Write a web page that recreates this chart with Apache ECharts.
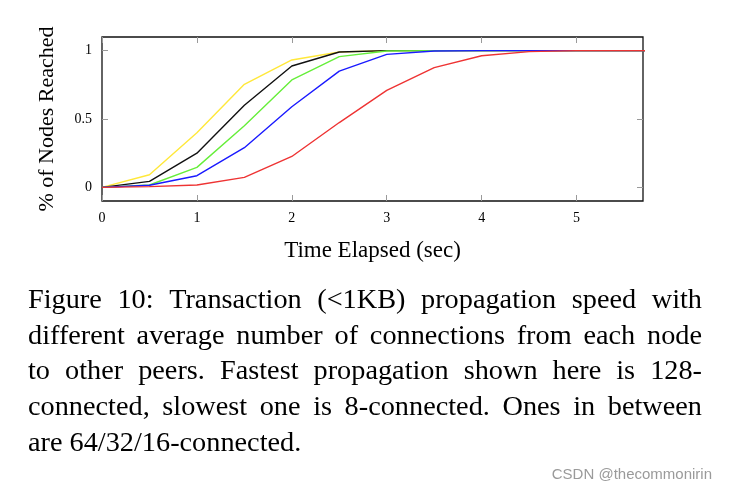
<!DOCTYPE html>
<html><head><meta charset="utf-8">
<script src="https://cdn.jsdelivr.net/npm/echarts@6/dist/echarts.min.js"></script>
<style>html,body{margin:0;padding:0;background:#fff}#c{width:729px;height:496px}</style>
</head><body><div id="c"></div>
<script>
// ---- data ----
const xValues = [0, 0.5, 1, 1.5, 2, 2.5, 3, 3.5, 4, 4.5, 5, 5.5, 6];
const conn128 = [0, 0.092, 0.40, 0.754, 0.932, 0.99, 1, 1, 1, 1, 1, 1, 1];
const conn64  = [0, 0.044, 0.25, 0.60, 0.888, 0.99, 1, 1, 1, 1, 1, 1, 1];
const conn32  = [0, 0.017, 0.146, 0.45, 0.786, 0.956, 0.998, 1, 1, 1, 1, 1, 1];
const conn16  = [0, 0.015, 0.085, 0.29, 0.59, 0.85, 0.973, 0.998, 1, 1, 1, 1, 1];
const conn8   = [0, 0.005, 0.017, 0.073, 0.226, 0.474, 0.71, 0.876, 0.963, 0.993, 1, 1, 1];
const xTicks = [0, 1, 2, 3, 4, 5];
const yTicks = [0, 0.5, 1];
const xLabel = 'Time Elapsed (sec)';
const yLabel = '% of Nodes Reached';
const captionLines = [
  'Figure 10: Transaction (<1KB) propagation speed with',
  'different average number of connections from each node',
  'to other peers. Fastest propagation shown here is 128-',
  'connected, slowest one is 8-connected. Ones in between',
  'are 64/32/16-connected.'
];
const watermark = 'CSDN @thecommonirin';

const seriesDefs = [
  {name: '128-connected', data: conn128, color: '#ffe83a'},
  {name: '64-connected',  data: conn64,  color: '#111111'},
  {name: '32-connected',  data: conn32,  color: '#66ee3a'},
  {name: '16-connected',  data: conn16,  color: '#1a1aff'},
  {name: '8-connected',   data: conn8,   color: '#ee3333'}
];

const serif = '"Liberation Serif", "DejaVu Serif", serif';
const chart = echarts.init(document.getElementById('c'), null, {renderer: 'canvas'});

// caption, justified
const capFont = 28;
const baseSx = 1.01;
const ctx = document.createElement('canvas').getContext('2d');
ctx.font = capFont + 'px "Liberation Serif"';
const capLeft = 28, capRight = 702, capY0 = 300.5, capStep = 35.8;
const avail = capRight - capLeft;
const graphics = [];
captionLines.forEach((line, i) => {
  const y = capY0 + i * capStep;
  const words = line.split(' ').filter(w => w.length);
  const last = i === captionLines.length - 1;
  const widths = words.map(w => ctx.measureText(w).width);
  const total = widths.reduce((a, b) => a + b, 0);
  const spaceW = ctx.measureText(' ').width;
  let sx = baseSx;
  const minGap = 0.17 * capFont;
  if (total * sx + (words.length - 1) * minGap > avail) {
    sx = (avail - (words.length - 1) * minGap) / total;
  }
  const gap = last ? spaceW * sx : (avail - total * sx) / (words.length - 1);
  let x = capLeft;
  words.forEach((w, j) => {
    graphics.push({type: 'text', x: x, y: y, scaleX: sx, silent: true,
      style: {text: w, fontSize: capFont, fontFamily: serif, fill: '#000', verticalAlign: 'middle', align: 'left'}});
    x += widths[j] * sx + gap;
  });
});
graphics.push({type: 'text', x: 712, y: 475, silent: true,
  style: {text: watermark, fontSize: 15, fontFamily: '"Liberation Sans", Arial, sans-serif', fill: '#9a9a9a', align: 'right', verticalAlign: 'middle'}});

const tickStyle = {show: true, inside: true, length: 6, lineStyle: {color: '#9a9a9a', width: 1}};

const option = {
  backgroundColor: '#fff',
  animation: false,
  grid: {left: 102, right: 86, top: 37, bottom: 295, show: true, borderColor: '#111', borderWidth: 1.3, backgroundColor: 'transparent'},
  xAxis: [
    {type: 'value', min: 0, max: 5.7, position: 'bottom',
      name: xLabel, nameLocation: 'middle', nameGap: 38,
      nameTextStyle: {fontFamily: serif, fontSize: 23, color: '#000'},
      axisLine: {show: false, onZero: false},
      axisTick: Object.assign({customValues: xTicks}, tickStyle),
      axisLabel: {customValues: xTicks, fontFamily: serif, fontSize: 14, color: '#000', margin: 10},
      splitLine: {show: false}},
    {type: 'value', min: 0, max: 5.7, position: 'top',
      axisLine: {show: false, onZero: false},
      axisTick: Object.assign({customValues: xTicks}, tickStyle),
      axisLabel: {show: false}, splitLine: {show: false}}
  ],
  yAxis: [
    {type: 'value', min: -0.1, max: 1.1, position: 'left',
      name: yLabel, nameLocation: 'middle', nameGap: 44, nameRotate: 90,
      nameTextStyle: {fontFamily: serif, fontSize: 22, color: '#000'},
      axisLine: {show: false, onZero: false},
      axisTick: Object.assign({customValues: yTicks}, tickStyle),
      axisLabel: {customValues: yTicks, fontFamily: serif, fontSize: 14, color: '#000', margin: 10},
      splitLine: {show: false}},
    {type: 'value', min: -0.1, max: 1.1, position: 'right',
      axisLine: {show: false, onZero: false},
      axisTick: Object.assign({customValues: yTicks}, tickStyle),
      axisLabel: {show: false}, splitLine: {show: false}}
  ],
  series: seriesDefs.map(s => ({
    type: 'line', name: s.name, xAxisIndex: 0, yAxisIndex: 0,
    data: xValues.map((x, i) => [x, s.data[i]]),
    showSymbol: false, symbol: 'none', clip: true,
    lineStyle: {color: s.color, width: 1.4}, itemStyle: {color: s.color},
    emphasis: {disabled: true}
  })),
  graphic: graphics
};
chart.setOption(option);
</script></body></html>
